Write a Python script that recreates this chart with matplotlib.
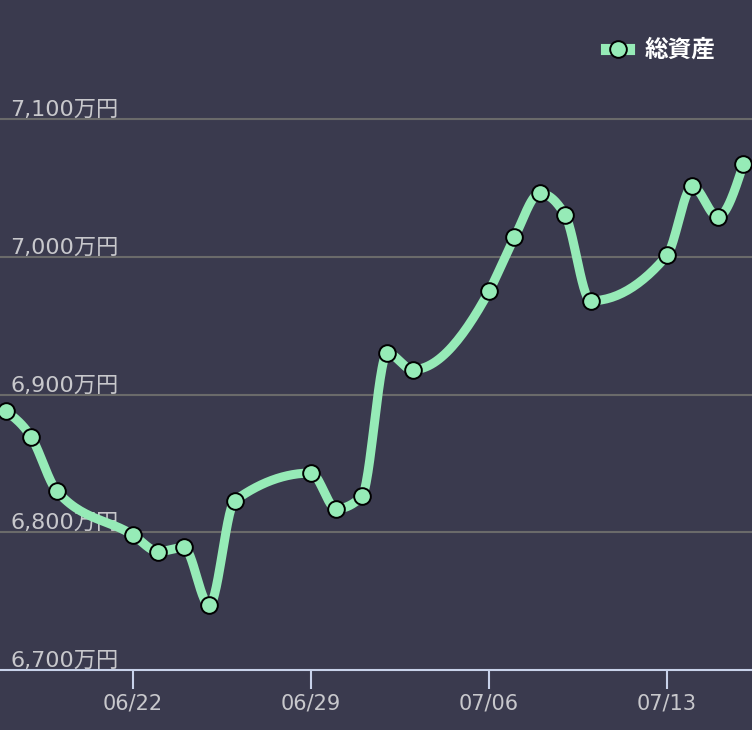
import numpy as np
import matplotlib
matplotlib.use("Agg")
import matplotlib.pyplot as plt
from matplotlib.lines import Line2D
from matplotlib import transforms

plt.rcParams['font.family'] = ['DejaVu Sans', 'Noto Sans CJK JP']

# data: day offsets from 06/22 and total assets (万円)
dates = ["06/17", "06/18", "06/19", "06/22", "06/23", "06/24", "06/25", "06/26",
         "06/29", "06/30", "07/01", "07/02", "07/03", "07/06", "07/07", "07/08",
         "07/09", "07/10", "07/13", "07/14", "07/15", "07/16"]
day_offsets = [-5, -4, -3, 0, 1, 2, 3, 4, 7, 8, 9, 10, 11, 14, 15, 16, 17, 18, 21, 22, 23, 24]
values = [6888, 6869, 6830, 6798, 6786, 6789, 6747, 6823, 6843, 6817, 6826, 6930, 6918,
          6975, 7014, 7046, 7030, 6968, 7001, 7051, 7029, 7067]
xtick_pos = [0, 7, 14, 21]
xtick_labels = ["06/22", "06/29", "07/06", "07/13"]
ytick_vals = [6700, 6800, 6900, 7000, 7100]
ytick_labels = ["6,700万円", "6,800万円", "6,900万円", "7,000万円", "7,100万円"]
series_name = "総資産"

BG = "#3a3a4e"
GREEN = "#96ebb7"
TXT = "#c8c8cc"
AXIS = "#c8d2ea"
GRID = "#6a6a6a"


def monotone(x, y, n=30):
    x = np.asarray(x, float); y = np.asarray(y, float)
    h = np.diff(x); d = np.diff(y) / h
    m = np.zeros_like(y)
    for i in range(1, len(x) - 1):
        if d[i - 1] * d[i] <= 0:
            m[i] = 0
        else:
            p = (d[i - 1] * h[i] + d[i] * h[i - 1]) / (h[i - 1] + h[i])
            m[i] = (np.sign(d[i - 1]) + np.sign(d[i])) * min(abs(d[i - 1]), abs(d[i]), 0.5 * abs(p))
    m[0] = (3 * d[0] - m[1]) / 2
    m[-1] = (3 * d[-1] - m[-2]) / 2
    xs, ys = [], []
    for i in range(len(x) - 1):
        t = np.linspace(0, 1, n)
        h00 = 2 * t**3 - 3 * t**2 + 1
        h10 = t**3 - 2 * t**2 + t
        h01 = -2 * t**3 + 3 * t**2
        h11 = t**3 - t**2
        xs.append(x[i] + t * h[i])
        ys.append(h00 * y[i] + h10 * h[i] * m[i] + h01 * y[i + 1] + h11 * h[i] * m[i + 1])
    return np.concatenate(xs), np.concatenate(ys)


fig = plt.figure(figsize=(7.52, 7.30), dpi=100, facecolor=BG)
ax = fig.add_axes([0, 60 / 730, 1, 670 / 730], facecolor=BG)

ppd = 178 / 7.0
ax.set_xlim(-133 / ppd, (752 - 133) / ppd)
ax.set_ylim(6700, 6700 + 670 / 1.3775)

for v in ytick_vals[1:]:
    ax.axhline(v, color=GRID, lw=1.5, zorder=1)

trans = transforms.blended_transform_factory(ax.transAxes, ax.transData)
for v, lab in zip(ytick_vals, ytick_labels):
    ax.text(10 / 752, v + 3 / 1.3775, lab, transform=trans, color=TXT, fontsize=16,
            ha='left', va='baseline', zorder=2)

xs, ys = monotone(day_offsets, values)
ax.plot(xs, ys, color=GREEN, lw=6.5, solid_capstyle='round', zorder=3, clip_on=False)
ax.plot(day_offsets, values, 'o', ms=12, mfc=GREEN, mec='black', mew=1.4, zorder=4,
        clip_on=False)

for s in ['top', 'right', 'left']:
    ax.spines[s].set_visible(False)
ax.spines['bottom'].set_color(AXIS)
ax.spines['bottom'].set_linewidth(1.5)
ax.set_yticks([])
ax.set_xticks(xtick_pos)
ax.set_xticklabels(xtick_labels)
ax.tick_params(axis='x', colors=AXIS, length=14, width=1.5, labelcolor=TXT,
               labelsize=15, pad=3)

handle = Line2D([], [], color=GREEN, lw=8, marker='o', ms=12, mfc=GREEN, mec='black',
                mew=1.4)
leg = ax.legend([handle], [series_name], loc='upper right', bbox_to_anchor=(0.98, 0.975),
                frameon=False, handlelength=1.0, handletextpad=0.65,
                prop={'size': 17, 'weight': 'bold'})
for t in leg.get_texts():
    t.set_color('white')

fig.savefig("out.png", dpi=100, facecolor=BG)
